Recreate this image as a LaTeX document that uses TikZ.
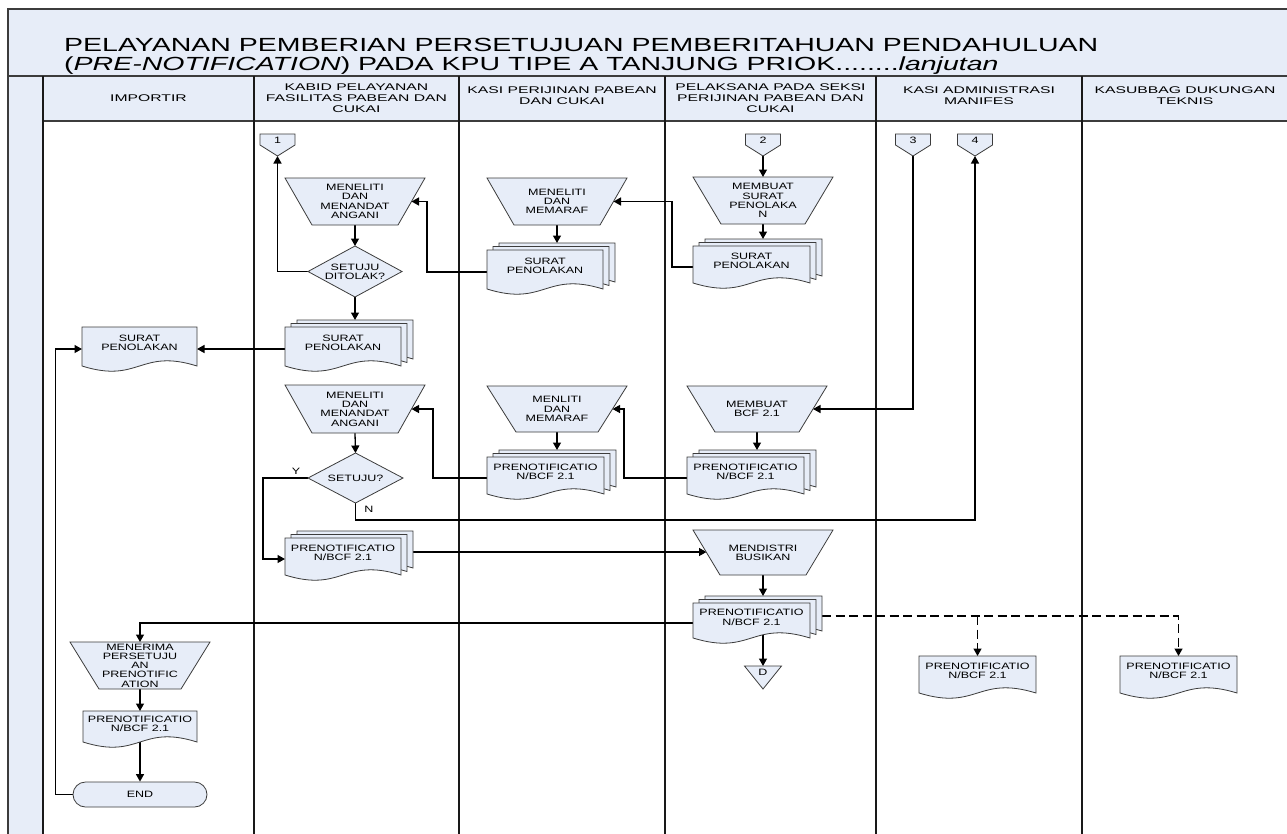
\documentclass[tikz,border=0pt]{standalone}
\usepackage{fontspec}
\setmainfont{Liberation Sans}
\newfontfamily\nodefnt[FakeStretch=1.36]{Liberation Sans}
\newfontfamily\headfnt[FakeStretch=1.62]{Liberation Sans}
\newfontfamily\titlefnt[FakeStretch=1.5]{Liberation Sans}
\usetikzlibrary{arrows.meta,calc}
\pgfdeclarelayer{frame}
\pgfdeclarelayer{links}
\pgfsetlayers{frame,links,main}
\definecolor{fillb}{RGB}{231,237,248}
\definecolor{edgec}{RGB}{60,60,60}

\tikzset{
  shp/.style={draw=edgec, fill=fillb, line width=0.8pt},
  box/.style={inner sep=0pt, outer sep=0pt, draw=none},
  txt/.style={font=\nodefnt\fontsize{9.2}{9.3}\selectfont, align=center, inner sep=0pt},
  headtxt/.style={font=\headfnt\fontsize{9.7}{11}\selectfont, align=center, inner sep=0pt},
  titletxt/.style={font=\titlefnt\fontsize{19}{19}\selectfont, inner sep=0pt},
  lbltxt/.style={font=\nodefnt\fontsize{9.2}{9.3}\selectfont, inner sep=0pt},
  conn/.style={draw=black, line width=1.3pt, -{Triangle[length=7.5pt,width=8pt]}},
  dconn/.style={conn, dash pattern=on 9pt off 4.5pt},
  framel/.style={draw=edgec, line width=1.4pt},
  lane/.style={draw=black!90, line width=1.6pt},
}

% document shape path: x0, y0, w, H
\newcommand\docpath[4]{%
  \path[shp] ({#1},{#2}) -- ({#1+#3},{#2}) -- ({#1+#3},{#2+#4-5})
    .. controls ({#1+#3/2},{#2+#4-23}) and ({#1+#3/2},{#2+#4+13}) .. ({#1},{#2+#4-5}) -- cycle;}
% single document: name, x0, y0, w, H, text
\newcommand\docbody[6]{%
  \node[box, anchor=north west, minimum width=#4pt, minimum height=#5pt] (#1) at ({#2},{#3}) {};
  \docpath{#2}{#3}{#4}{#5}
  \node[txt] (#1-t) at ($(#1.north)!0.36!(#1.south)$) {#6};}
% multi document
\newcommand\mdoc[6]{%
  \node[box, anchor=north west, minimum width=#4pt, minimum height=#5pt] (#1-back) at ({#2+12},{#3-7}) {};
  \docpath{#2+12}{#3-7}{#4}{#5}
  \docpath{#2+6}{#3-3.5}{#4}{#5}
  \docbody{#1}{#2}{#3}{#4}{#5}{#6}}
% inverted trapezoid (manual operation): name, cx, cy, wtop, h, inset, text
\newcommand\trapz[7]{%
  \node[box, minimum width=#4pt, minimum height=#5pt] (#1) at (#2,#3) {};
  \path[shp] (#1.north west) -- (#1.north east) -- ([xshift=-#6pt]#1.south east) -- ([xshift=#6pt]#1.south west) -- cycle;
  \coordinate (#1-e) at ([xshift=-#6pt/2]#1.east);
  \coordinate (#1-w) at ([xshift=#6pt/2]#1.west);
  \node[txt] (#1-t) at (#1.center) {#7};}
% diamond: name, cx, cy, w, h, text
\newcommand\dmnd[6]{%
  \node[box, minimum width=#4pt, minimum height=#5pt] (#1) at (#2,#3) {};
  \path[shp] (#1.north) -- (#1.east) -- (#1.south) -- (#1.west) -- cycle;
  \node[txt] (#1-t) at (#1.center) {#6};}
% off-page connector: name, cx, ytop, text
\newcommand\offpg[4]{%
  \node[box, anchor=north, minimum width=35pt, minimum height=22pt] (#1) at (#2,#3) {};
  \path[shp] (#1.north west) -- (#1.north east) -- ($(#1.north east)!0.5!(#1.south east)$) -- (#1.south) -- ($(#1.north west)!0.5!(#1.south west)$) -- cycle;
  \node[txt] (#1-t) at ($(#1.north)!0.3!(#1.south)$) {#4};}

\begin{document}
\begin{tikzpicture}[x=1pt,y=-1pt]
\useasboundingbox (0,0) rectangle (1287,833);

% ---------- frame ----------
\begin{pgfonlayer}{frame}
  \fill[white] (0,0) rectangle (1287,833);
  \path[fill=fillb] (8,9) rectangle (1300,121);
  \path[fill=fillb] (8,121) rectangle (43,850);
  \draw[framel] (1300,9) -- (8,9) -- (8,850);
  \draw[framel] (8,76) -- (1300,76);
  \draw[framel] (43,121) -- (1300,121);
  \foreach \xx in {43,254,459,665,876,1082} \draw[lane] (\xx,76) -- (\xx,850);
\end{pgfonlayer}

% ---------- title & headers ----------
\node[titletxt, anchor=base west] (title1) at (64,51.5) {PELAYANAN PEMBERIAN PERSETUJUAN PEMBERITAHUAN PENDAHULUAN};
\node[titletxt, anchor=base west] (title2) at (64,70) {(\textit{PRE-NOTIFICATION}) PADA KPU TIPE A TANJUNG PRIOK........\textit{lanjutan}};

\node[headtxt] (hd1) at (148.5,98) {IMPORTIR};
\node[headtxt] (hd2) at (356.5,98) {KABID PELAYANAN\\FASILITAS PABEAN DAN\\CUKAI};
\node[headtxt] (hd3) at (562,96) {KASI PERIJINAN PABEAN\\DAN CUKAI};
\node[headtxt] (hd4) at (770.5,98) {PELAKSANA PADA SEKSI\\PERIJINAN PABEAN DAN\\CUKAI};
\node[headtxt] (hd5) at (979,96) {KASI ADMINISTRASI\\MANIFES};
\node[headtxt] (hd6) at (1185,96) {KASUBBAG DUKUNGAN\\TEKNIS};

% ---------- shapes ----------
\offpg{c1}{277.5}{134}{1}
\offpg{c2}{763}{134}{2}
\offpg{c3}{913}{134}{3}
\offpg{c4}{975}{134}{4}

\trapz{t1}{355}{201.5}{140}{47}{27}{MENELITI\\DAN\\MENANDAT\\ANGANI}
\dmnd{d1}{355}{271.5}{94}{51}{SETUJU\\DITOLAK?}
\mdoc{m1}{285}{327}{116}{44}{SURAT\\PENOLAKAN}
\docbody{imp1}{82}{327}{115}{44}{SURAT\\PENOLAKAN}

\trapz{t2}{557}{201.5}{140}{47}{27}{MENELITI\\DAN\\MEMARAF}
\mdoc{m2}{487}{250}{116}{44}{SURAT\\PENOLAKAN}

\trapz{t3}{763}{200.5}{140}{47}{28}{MEMBUAT\\SURAT\\PENOLAKA\\N}
\mdoc{m3}{693}{246}{117}{42}{SURAT\\PENOLAKAN}

\trapz{t4}{355}{409}{140}{48}{27}{MENELITI\\DAN\\MENANDAT\\ANGANI}
\dmnd{d2}{355.5}{478}{95}{50}{SETUJU?}
\trapz{t5}{557}{409}{140}{46}{29}{MENLITI\\DAN\\MEMARAF}
\mdoc{m5}{487}{457}{117}{42}{PRENOTIFICATIO\\N/BCF 2.1}
\trapz{t6}{757}{409}{140}{46}{28}{MEMBUAT\\BCF 2.1}
\mdoc{m6}{687}{457}{117}{42}{PRENOTIFICATIO\\N/BCF 2.1}

\mdoc{m7}{285}{538}{116}{42}{PRENOTIFICATIO\\N/BCF 2.1}
\trapz{t7}{763}{552.5}{140}{45}{27}{MENDISTRI\\BUSIKAN}
\mdoc{m8}{693}{603}{117}{40}{PRENOTIFICATIO\\N/BCF 2.1}

\node[box, anchor=north, minimum width=37pt, minimum height=23pt] (dd) at (763,666) {};
\path[shp] (dd.north west) -- (dd.north east) -- (dd.south) -- cycle;
\node[txt] (dd-t) at ($(dd.north)!0.28!(dd.south)$) {D};

\docbody{s1}{919}{656}{117}{42}{PRENOTIFICATIO\\N/BCF 2.1}
\docbody{s2}{1120}{656}{117}{42}{PRENOTIFICATIO\\N/BCF 2.1}

\trapz{t8}{140}{665.5}{140}{47}{29}{MENERIMA\\PERSETUJU\\AN\\PRENOTIFIC\\ATION}
\docbody{i2}{83}{711}{114}{36}{PRENOTIFICATIO\\N/BCF 2.1}
\node[shp, txt, rounded corners=12.5pt, minimum width=134pt, minimum height=25pt] (end) at (140,794.5) {END};

\node[lbltxt] (labY) at (296,471) {Y};
\node[lbltxt] (labN) at (369,509) {N};

% ---------- connectors ----------
\begin{pgfonlayer}{links}
  \draw[conn] (t1.south) -- (d1.north);
  \draw[conn] (d1.west) -| (c1.south);
  \draw[conn] (d1.south) -- (d1.south |- m1-back.north);
  \draw[conn] (m1.west) -- (imp1.east);
  \draw[conn] (t2.south) -- (t2.south |- m2-back.north);
  \draw[conn] (m2.west) -- ++(-60,0) |- (t1-e);
  \draw[conn] (c2.south) -- (t3.north);
  \draw[conn] (t3.south) -- (t3.south |- m3-back.north);
  \draw[conn] (m3.west) -- ++(-21,0) |- (t2-e);
  \draw[conn] (c3.south) |- (t6-e);
  \draw[conn] (t4.south) -- (d2.north);
  \draw[conn] (d2.west) -- ++(-45,0) |- (m7.west);
  \draw[conn] (d2.south) -- ++(0,17) -| (c4.south);
  \draw[conn] (t5.south) -- (t5.south |- m5-back.north);
  \draw[conn] (m5.west) -- ++(-54,0) |- (t4-e);
  \draw[conn] (t6.south) -- (t6.south |- m6-back.north);
  \draw[conn] (m6.west) -- ++(-63,0) |- (t5-e);
  \draw[conn] (m7-back.east) -- (m7-back.east -| t7-w);
  \draw[conn] (t7.south) -- (t7.south |- m8-back.north);
  \draw[conn] (m8.west) -| (t8.north);
  \draw[conn] (m8.center -| dd.north) -- (dd.north);
  \draw[dconn] (m8-back.east) -| (s2.north);
  \draw[dconn] (m8-back.east -| s1.north) -- (s1.north);
  \draw[conn] (t8.south) -- (i2.north);
  \draw[conn] (i2.center) -- (end.north);
  \draw[conn] (end.west) -- ++(-17,0) |- (imp1.west);
\end{pgfonlayer}
\end{tikzpicture}
\end{document}
